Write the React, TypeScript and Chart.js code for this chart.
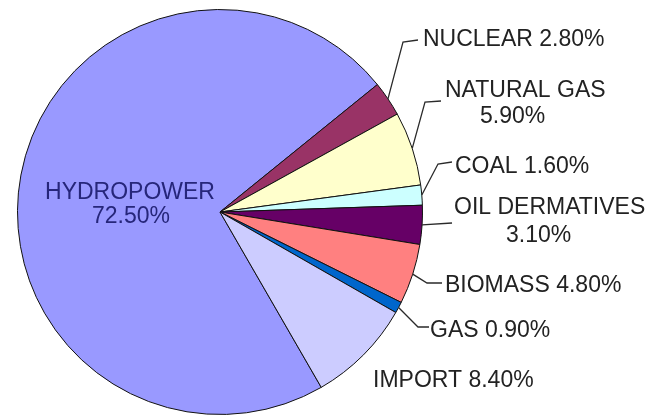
import React, { useEffect, useRef } from "react";
import { Chart, registerables } from "chart.js";

Chart.register(...registerables);

const categories = [
  "HYDROPOWER",
  "NUCLEAR",
  "NATURAL GAS",
  "COAL",
  "OIL DERMATIVES",
  "BIOMASS",
  "GAS",
  "IMPORT",
];
const shares = [72.5, 2.8, 5.9, 1.6, 3.1, 4.8, 0.9, 8.4];
const sliceColors = [
  "#9999FF",
  "#993366",
  "#FFFFCC",
  "#CCFFFF",
  "#660066",
  "#FF8080",
  "#0066CC",
  "#CCCCFF",
];

// label placement (layout only): text line positions and leader-line bends
type Layout = {
  split: boolean;
  xs: number[];
  ys: number[];
  align: CanvasTextAlign;
  color: string;
  leader: number[][] | null;
  maxWidth?: number;
};
const labelLayout: Layout[] = [
  { split: true, xs: [130, 131], ys: [199, 223], align: "center", color: "#26267a", leader: null },
  { split: false, xs: [423], ys: [46], align: "left", color: "#222", leader: [[403, 42], [418, 40]] },
  { split: true, xs: [445, 480], ys: [97, 123], align: "left", color: "#222", leader: [[425, 102], [441, 101]] },
  { split: false, xs: [455], ys: [173], align: "left", color: "#222", leader: [[438, 164], [452, 162]] },
  { split: true, xs: [454, 506], ys: [214, 242], align: "left", color: "#222", leader: [[452, 223]], maxWidth: 194 },
  { split: false, xs: [445], ys: [292], align: "left", color: "#222", leader: [[427, 283], [442, 283]] },
  { split: false, xs: [430], ys: [337], align: "left", color: "#222", leader: [[418, 327], [429, 327]] },
  { split: false, xs: [373], ys: [387], align: "left", color: "#222", leader: null },
];

const labelPlugin = {
  id: "sliceLabels",
  afterDatasetsDraw(chart: any) {
    const ctx: CanvasRenderingContext2D = chart.ctx;
    const meta = chart.getDatasetMeta(0);
    ctx.save();
    meta.data.forEach((arc: any, i: number) => {
      const p = arc.getProps(["x", "y", "startAngle", "endAngle", "outerRadius"], true);
      const mid = (p.startAngle + p.endAngle) / 2;
      const ax = p.x + Math.cos(mid) * p.outerRadius;
      const ay = p.y + Math.sin(mid) * p.outerRadius;
      const lay = labelLayout[i];
      if (lay.leader) {
        ctx.beginPath();
        ctx.moveTo(ax, ay);
        lay.leader.forEach((pt) => ctx.lineTo(pt[0], pt[1]));
        ctx.strokeStyle = "#2a2a2a";
        ctx.lineWidth = 1.3;
        ctx.stroke();
      }
      const pct = shares[i].toFixed(2) + "%";
      const lines = lay.split ? [categories[i], pct] : [categories[i] + " " + pct];
      ctx.font = '23px "Liberation Sans", Arial, sans-serif';
      ctx.fillStyle = lay.color;
      ctx.textAlign = lay.align;
      ctx.textBaseline = "alphabetic";
      lines.forEach((t, k) => {
        if (lay.maxWidth && k === 0) ctx.fillText(t, lay.xs[k], lay.ys[k], lay.maxWidth);
        else ctx.fillText(t, lay.xs[k], lay.ys[k]);
      });
    });
    ctx.restore();
  },
};

export default function App() {
  const ref = useRef<HTMLCanvasElement>(null);
  useEffect(() => {
    if (!ref.current) return;
    const chart = new Chart(ref.current, {
      type: "pie",
      data: {
        labels: categories,
        datasets: [
          {
            data: shares,
            backgroundColor: sliceColors,
            borderColor: "#111",
            borderWidth: 1,
          },
        ],
      },
      options: {
        responsive: false,
        animation: false,
        rotation: 150,
        layout: { padding: { left: 17, right: 226, top: 9, bottom: 2 } },
        plugins: { legend: { display: false }, tooltip: { enabled: false } },
      },
      plugins: [labelPlugin],
    });
    return () => chart.destroy();
  }, []);
  return (
    <div style={{ position: "absolute", left: 0, top: 0, width: 649, height: 417, background: "#fff" }}>
      <canvas ref={ref} width={649} height={417} />
    </div>
  );
}
